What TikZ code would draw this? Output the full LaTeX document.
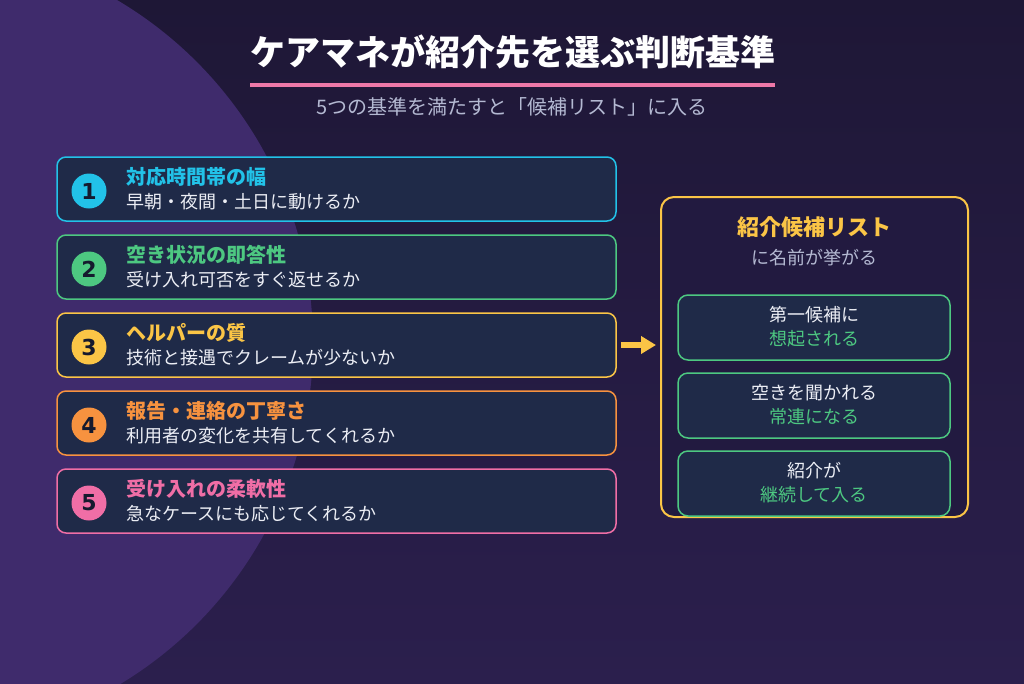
\documentclass[tikz,border=0pt]{standalone}
\usepackage{fontspec}
\setmainfont{Noto Sans CJK JP}
\newfontfamily\numfont{DejaVu Sans Bold}
\usetikzlibrary{arrows.meta}
\definecolor{bgtop}{HTML}{1E1736}
\definecolor{bgbot}{HTML}{2B1F4D}
\definecolor{blob}{HTML}{3F2B6C}
\definecolor{cardfill}{HTML}{1F2A48}
\definecolor{cyanc}{HTML}{22C2E8}
\definecolor{greenc}{HTML}{4DC881}
\definecolor{yellowc}{HTML}{FBC546}
\definecolor{orangec}{HTML}{F7923F}
\definecolor{pinkc}{HTML}{F06EA6}
\definecolor{ulpink}{HTML}{EE78A8}
\definecolor{subgray}{HTML}{B4B9D2}
\definecolor{bodytext}{HTML}{ECEEF5}
\definecolor{numtext}{HTML}{151A2E}
\definecolor{panelfill}{HTML}{221A40}
\tikzset{
  card/.style={draw=#1, line width=1.5pt, fill=cardfill, rounded corners=9pt,
    minimum width=559pt, minimum height=64pt, inner sep=0pt},
  numdot/.style={circle, fill=#1, minimum size=35pt, inner sep=0pt,
    font=\numfont\fontsize{22}{22}\selectfont, text=numtext},
  ctitle/.style={anchor=west, inner sep=0pt, text=#1,
    font=\fontsize{20}{20}\selectfont\bfseries},
  cbody/.style={anchor=west, inner sep=0pt, text=bodytext,
    font=\fontsize{18}{18}\selectfont},
  panelbox/.style={draw=yellowc, line width=2pt, fill=panelfill, rounded corners=13pt,
    minimum width=307pt, minimum height=320pt, inner sep=0pt},
  resbox/.style={draw=greenc, line width=1.5pt, fill=cardfill, rounded corners=10pt,
    minimum width=272pt, minimum height=65pt, inner sep=0pt},
  reswhite/.style={inner sep=0pt, text=bodytext, font=\fontsize{18}{18}\selectfont},
  resgreen/.style={inner sep=0pt, text=greenc, font=\fontsize{18}{18}\selectfont},
}
\begin{document}
\begin{tikzpicture}[x=1pt,y=-1pt]
\useasboundingbox (0,0) rectangle (1024,683);
\shade[top color=bgtop, bottom color=bgbot] (0,0) rectangle (1024,683);
\begin{scope}
\clip (0,0) rectangle (1024,683);
\fill[blob] (-85,343) circle[radius=398pt];
\end{scope}

% title
\node[inner sep=0pt, text=white, font=\fontsize{35}{35}\selectfont\bfseries] (title) at (512.5,51.5) {ケアマネが紹介先を選ぶ判断基準};
\coordinate (ulA) at (250,84.7);
\coordinate (ulB) at (775,84.7);
\draw[ulpink, line width=4pt] (ulA) -- (ulB);
\node[inner sep=0pt, text=subgray, font=\fontsize{20}{20}\selectfont] (sub) at (512,106.5) {5つの基準を満たすと「候補リスト」に入る};

% cards
\foreach \i/\cy/\col/\ttl/\bdy in {
  1/189/cyanc/対応時間帯の幅/早朝・夜間・土日に動けるか,
  2/267/greenc/空き状況の即答性/受け入れ可否をすぐ返せるか,
  3/345/yellowc/ヘルパーの質/技術と接遇でクレームが少ないか,
  4/423/orangec/報告・連絡の丁寧さ/利用者の変化を共有してくれるか,
  5/501/pinkc/受け入れの柔軟性/急なケースにも応じてくれるか}{
  \node[card=\col] (b\i) at (336.5,\cy) {};
  \node[numdot=\col] (n\i) at (89,\cy+2) {\i};
  \node[ctitle=\col] (t\i) at (126,\cy-12.5) {\ttl};
  \node[cbody] (d\i) at (126,\cy+13) {\bdy};
}

% panel
\node[panelbox] (panel) at (814.5,357) {};
\node[inner sep=0pt, text=yellowc, font=\fontsize{22}{22}\selectfont\bfseries] (ptitle) at (814,227.5) {紹介候補リスト};
\node[inner sep=0pt, text=subgray, font=\fontsize{18}{18}\selectfont] (psub) at (814,257.5) {に名前が挙がる};

\foreach \j/\cy/\wt/\gt in {
  1/327.5/第一候補に/想起される,
  2/405.5/空きを聞かれる/常連になる,
  3/483.5/紹介が/継続して入る}{
  \node[resbox] (r\j) at (814,\cy) {};
  \node[reswhite] (rw\j) at (814,\cy-12.5) {\wt};
  \node[resgreen] (rg\j) at (814,\cy+11) {\gt};
}

% arrow
\draw[yellowc, line width=6pt, -{Triangle[length=15pt,width=17pt]}]
  ([xshift=4pt]b3.east) -- ([xshift=-4pt]b3.east -| panel.west);
\end{tikzpicture}
\end{document}
